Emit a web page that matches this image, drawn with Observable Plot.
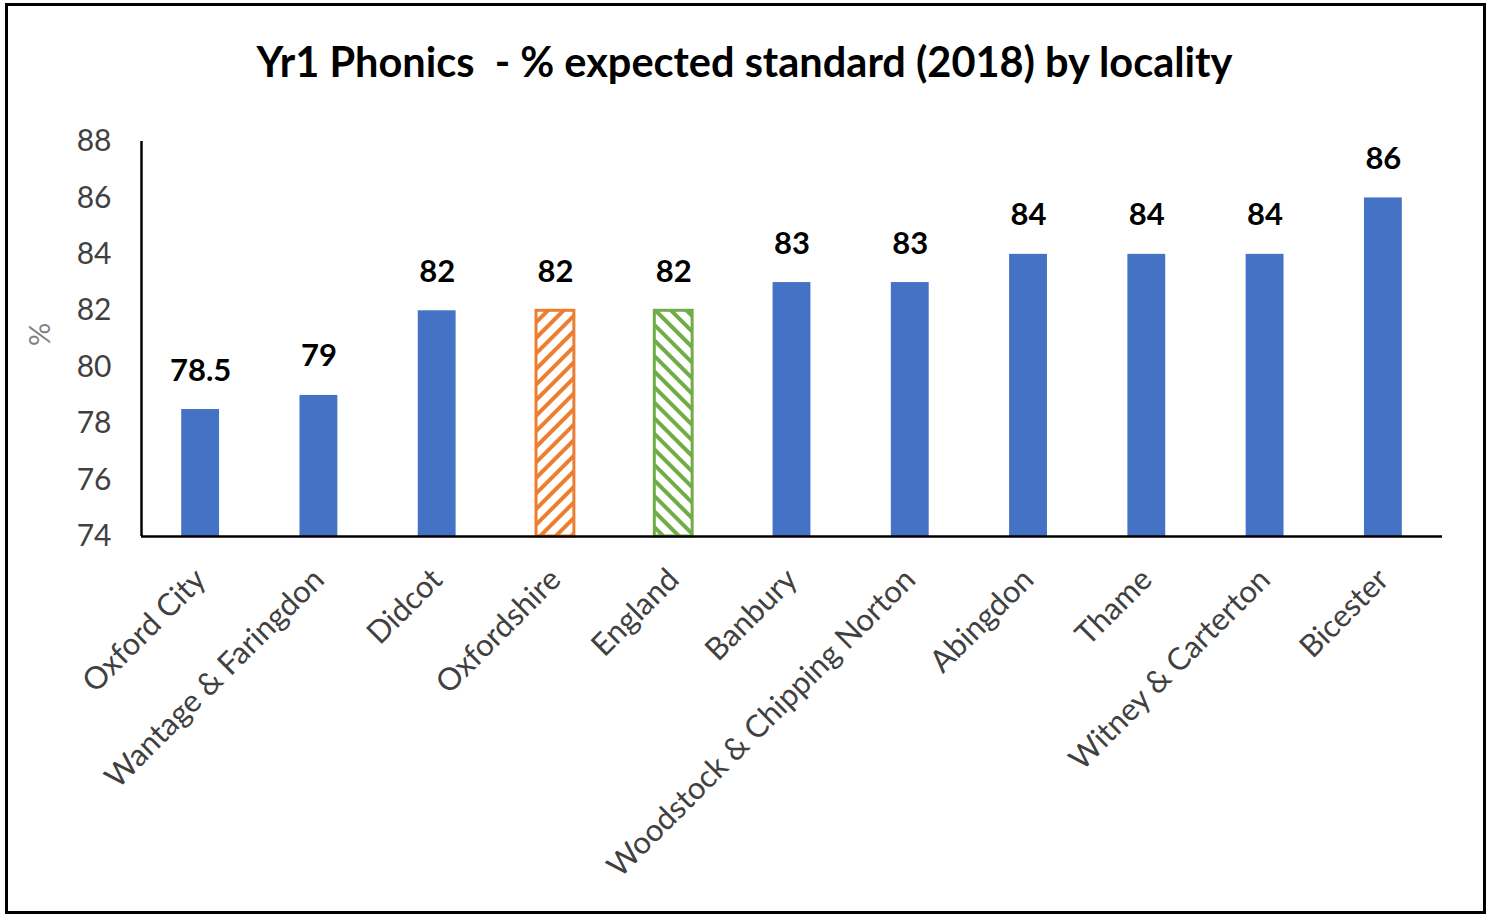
<!DOCTYPE html>
<html>
<head>
<meta charset="utf-8">
<script src="https://cdn.jsdelivr.net/npm/d3@7"></script>
<script src="https://cdn.jsdelivr.net/npm/@observablehq/plot@0.6"></script>
<style>
  html, body { margin: 0; padding: 0; background: #fff; }
  body { width: 1489px; height: 916px; position: relative; overflow: hidden; font-family: Lato, "Open Sans", sans-serif; }
  #frame { position: absolute; left: 5px; top: 3px; width: 1481px; height: 911px; box-sizing: border-box; border: 3px solid #000; }
  #title { position: absolute; left: 0; top: 36px; width: 1489px; text-align: center; font-weight: bold; font-size: 41.5px; color: #000; white-space: pre; }
  #chart { position: absolute; left: 0; top: 0; }
</style>
</head>
<body>
<div id="frame"></div>
<div id="chart"></div>
<div id="title">Yr1 Phonics  - % expected standard (2018) by locality</div>
<script>
const categories = ["Oxford City", "Wantage & Faringdon", "Didcot", "Oxfordshire", "England", "Banbury", "Woodstock & Chipping Norton", "Abingdon", "Thame", "Witney & Carterton", "Bicester"];
const values = [78.5, 79, 82, 82, 82, 83, 83, 84, 84, 84, 86];
const labels = ["78.5", "79", "82", "82", "82", "83", "83", "84", "84", "84", "86"];
const yTicks = [74, 76, 78, 80, 82, 84, 86, 88];
const kinds = ["locality", "locality", "locality", "county", "national", "locality", "locality", "locality", "locality", "locality", "locality"];

const data = categories.map((c, i) => ({ name: c, value: values[i], label: labels[i], kind: kinds[i] }));
const fillOf = { locality: "#4472C4", county: "url(#hatchOrange)", national: "url(#hatchGreen)" };
const strokeOf = { locality: "none", county: "#ED7D31", national: "#70AD47" };

const W = 1489, ML = 141, MR = 47;
const step = (W - ML - MR) / categories.length;

const plot = Plot.plot({
  width: W,
  height: 916,
  marginLeft: ML,
  marginRight: MR,
  marginTop: 141,
  marginBottom: 380,
  style: { fontFamily: "Lato, 'Open Sans', sans-serif", background: "transparent", overflow: "visible" },
  x: { domain: categories, paddingInner: 0.68, paddingOuter: 0.34, round: false, label: null },
  y: { domain: [74, 88], label: null },
  color: { type: "identity" },
  marks: [
    Plot.axisY({ ticks: yTicks, tickSize: 0, tickPadding: 30, fontSize: 30, color: "#404040", label: null }),
    Plot.axisX({ tickSize: 0, tickRotate: -45, tickPadding: 38, fontSize: 31, color: "#404040", label: null }),
    Plot.barY(data, {
      x: "name", y1: 74, y2: "value",
      fill: d => fillOf[d.kind],
      stroke: d => strokeOf[d.kind],
      strokeWidth: 3
    }),
    Plot.text(data, { x: "name", y: "value", text: "label", lineAnchor: "bottom", dy: -29, fontSize: 31, fontWeight: "bold", fill: "#000" }),
    Plot.ruleX([categories[0]], { y1: 74, y2: 88, dx: -step / 2, stroke: "#000", strokeWidth: 2.5 }),
    Plot.ruleY([74], { stroke: "#000", strokeWidth: 2.5 }),
    Plot.text(["%"], { frameAnchor: "left", dx: -101, dy: 7, rotate: -90, fontSize: 29, fill: "#7f7f7f" })
  ]
});

// pattern defs for hatched bars
const ns = "http://www.w3.org/2000/svg";
const defs = document.createElementNS(ns, "defs");
function makePattern(id, color, angle) {
  const p = document.createElementNS(ns, "pattern");
  p.setAttribute("id", id);
  p.setAttribute("patternUnits", "userSpaceOnUse");
  p.setAttribute("width", "11");
  p.setAttribute("height", "11");
  p.setAttribute("patternTransform", `rotate(${angle})`);
  const bg = document.createElementNS(ns, "rect");
  bg.setAttribute("width", "11"); bg.setAttribute("height", "11"); bg.setAttribute("fill", "#fff");
  const r = document.createElementNS(ns, "rect");
  r.setAttribute("width", "4"); r.setAttribute("height", "11"); r.setAttribute("fill", color);
  p.appendChild(bg); p.appendChild(r);
  defs.appendChild(p);
}
makePattern("hatchOrange", "#ED7D31", 45);
makePattern("hatchGreen", "#70AD47", -45);
plot.insertBefore(defs, plot.firstChild);

document.getElementById("chart").appendChild(plot);
</script>
</body>
</html>
